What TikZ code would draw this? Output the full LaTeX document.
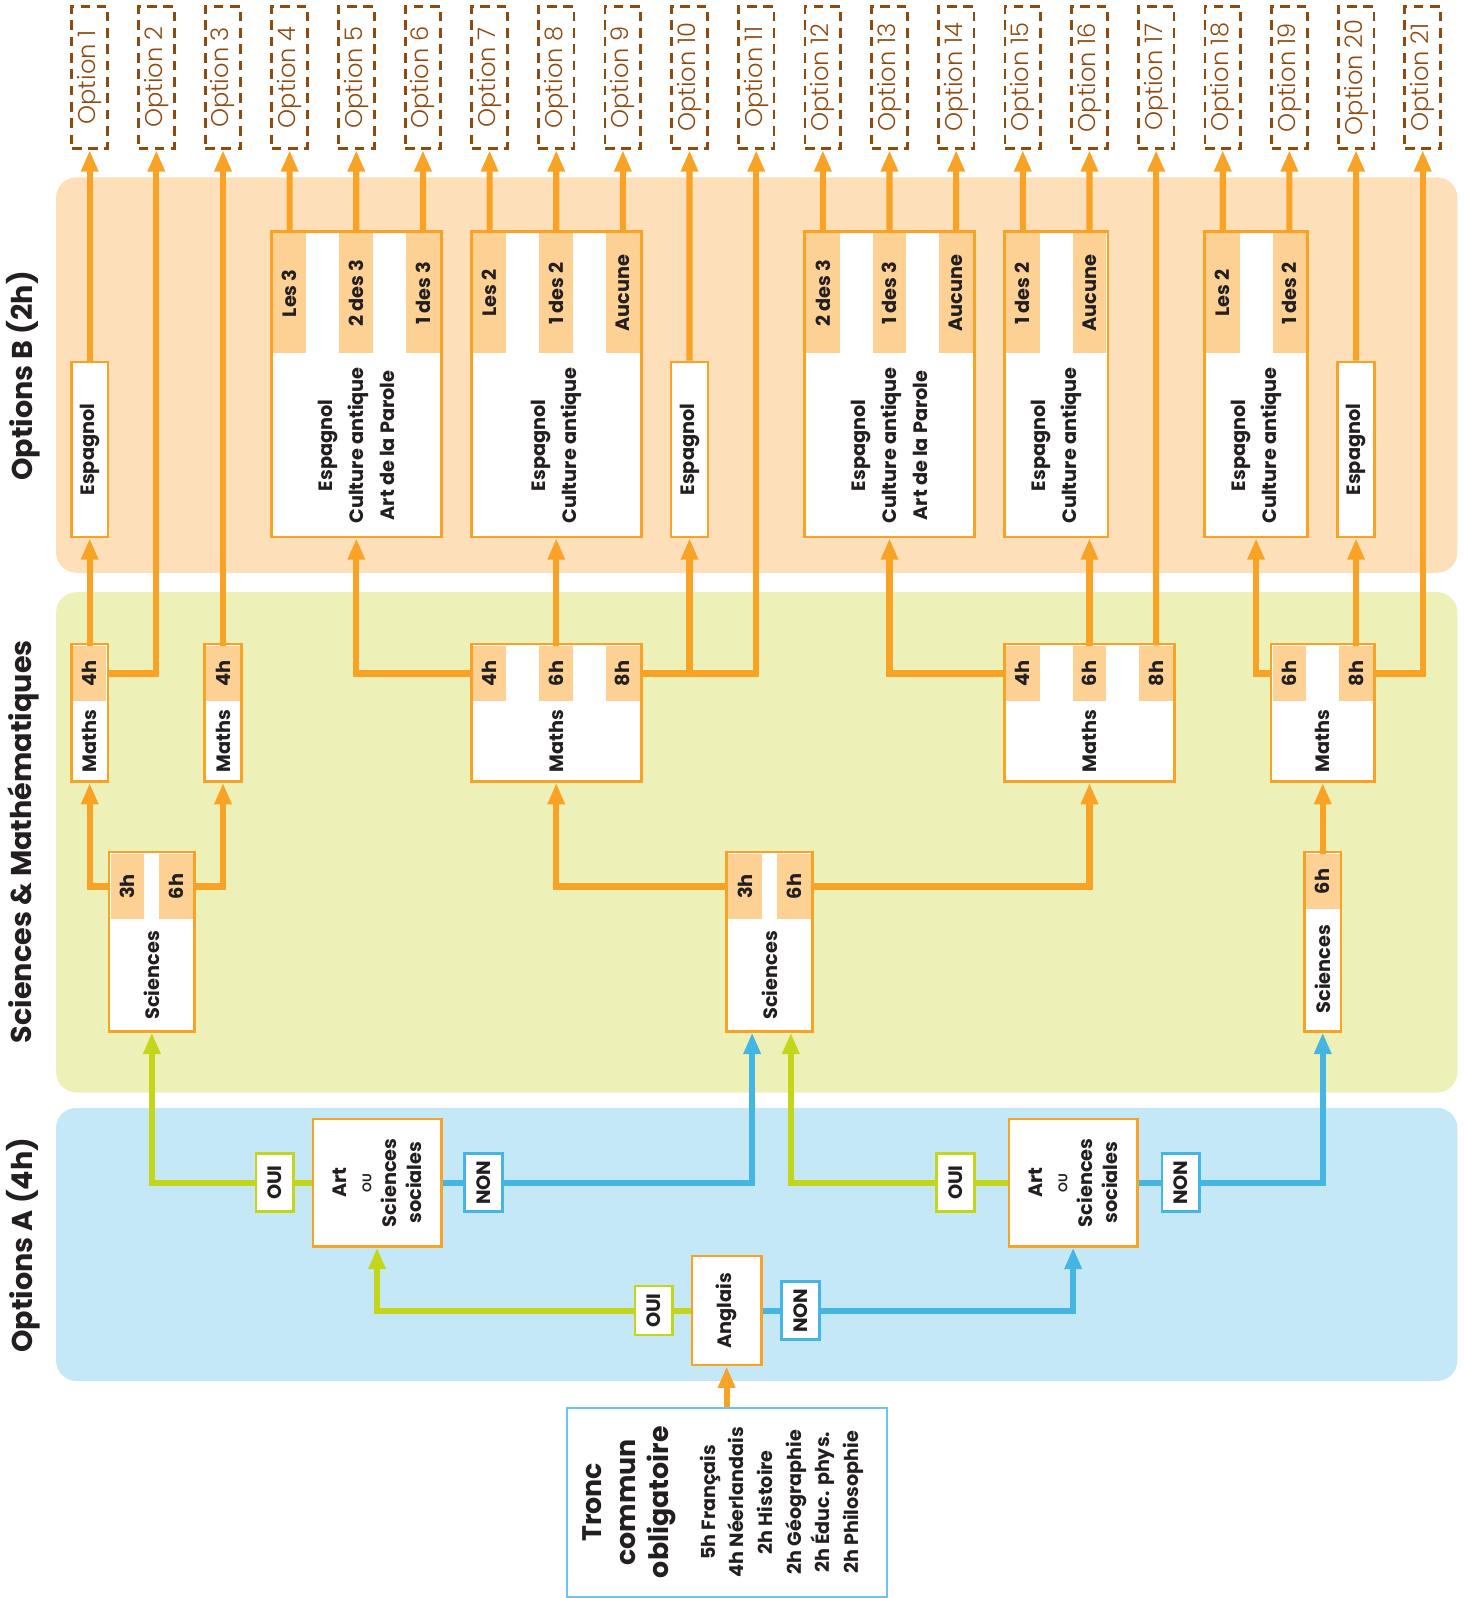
\documentclass[tikz,border=0pt]{standalone}
\usepackage{fontspec}
\setmainfont{Poppins}
\newfontfamily\optfont{Poppins Light}
\usepackage{graphicx}
\usetikzlibrary{arrows.meta}

\definecolor{orangeline}{HTML}{F8A325}
\definecolor{tabfill}{HTML}{FDD093}
\definecolor{bandB}{HTML}{FDE0BA}
\definecolor{bandS}{HTML}{EDF1B8}
\definecolor{bandA}{HTML}{C5E8F6}
\definecolor{ouigreen}{HTML}{C4D61A}
\definecolor{nonblue}{HTML}{45B6E4}
\definecolor{optbrown}{HTML}{8F4A10}
\definecolor{darktext}{HTML}{231F20}
\definecolor{troncblue}{HTML}{6CC5EC}

\newcommand{\vt}[1]{\rotatebox{90}{#1}}
\newcommand{\labfont}{\fontsize{10.8}{13}\selectfont\bfseries}
\newcommand{\bodyfont}{\fontsize{10.8}{17.4}\selectfont\bfseries}

\tikzset{
 band/.style={rounded corners=0.4cm},
 bandlabel/.style={rotate=90, text=darktext, font=\fontsize{16}{19}\selectfont\bfseries},
 optbox/.style={draw=optbrown, line width=0.055cm, dash pattern=on 0.19cm off 0.13cm,
   minimum width=0.7cm, minimum height=2.8cm, inner sep=0pt, text=optbrown,
   font=\fontsize{13.5}{15}\selectfont\optfont},
 obox/.style={draw=orangeline, line width=0.05cm, fill=white, inner sep=0pt,
   text=darktext, font=\labfont},
 espbox/.style={obox, minimum width=0.72cm, minimum height=3.44cm},
 tab/.style={fill=tabfill, inner sep=0pt, anchor=north, minimum width=0.66cm,
   text=darktext, font=\labfont},
 vtext/.style={rotate=90, align=center, text=darktext},
 flag/.style={line width=0.05cm, fill=white, inner sep=0pt, minimum width=0.74cm,
   minimum height=1.14cm, text=darktext, font=\labfont},
 link/.style={line width=0.12cm, draw=orangeline},
 conn/.style={link, -{Triangle[length=0.42cm,width=0.32cm]}},
 glink/.style={link, draw=ouigreen},
 gconn/.style={conn, draw=ouigreen},
 blink/.style={link, draw=nonblue},
 bconn/.style={conn, draw=nonblue}
}

\begin{document}
\begin{tikzpicture}[x=0.02cm, y=-0.02cm]
\useasboundingbox (0,0) rectangle (1436,1568);
%% bands
\fill[band, bandB] (55,174) rectangle (1430,562);
\fill[band, bandS] (55,581) rectangle (1430,1072);
\fill[band, bandA] (55,1087) rectangle (1430,1355);
\node[bandlabel] (lblB) at (22.5,369) {Options B (2h)};
\node[bandlabel] (lblS) at (22.5,826) {Sciences \& Mathématiques};
\node[bandlabel] (lblA) at (22.5,1222) {Options A (4h)};

%% final options
\foreach \i in {1,...,21}
  \node[optbox] (o\i) at ({88+(\i-1)*65.4},76) {\vt{Option \i}};

%% options B
\node[espbox] (e1) at (88,441) {\vt{Espagnol}};
\node[espbox] (e2) at (676.6,441) {\vt{Espagnol}};
\node[espbox] (e3) at (1330.6,441) {\vt{Espagnol}};

\node[obox, minimum width=3.336cm, minimum height=6cm] (bA) at (349.6,377) {};
\node[tab, minimum height=2.36cm] (tA1) at (284.2,228.5) {\vt{Les 3}};
\node[tab, minimum height=2.36cm] (tA2) at (349.6,228.5) {\vt{2 des 3}};
\node[tab, minimum height=2.36cm] (tA3) at (415,228.5) {\vt{1 des 3}};
\node[vtext, font=\bodyfont] (bAt) at (349.6,437) {Espagnol\\Culture antique\\Art de la Parole};

\node[obox, minimum width=3.336cm, minimum height=6cm] (bB) at (545.8,377) {};
\node[tab, minimum height=2.36cm] (tB1) at (480.4,228.5) {\vt{Les 2}};
\node[tab, minimum height=2.36cm] (tB2) at (545.8,228.5) {\vt{1 des 2}};
\node[tab, minimum height=2.36cm] (tB3) at (611.2,228.5) {\vt{Aucune}};
\node[vtext, font=\bodyfont] (bBt) at (545.8,437) {Espagnol\\Culture antique};

\node[obox, minimum width=3.336cm, minimum height=6cm] (bC) at (872.8,377) {};
\node[tab, minimum height=2.36cm] (tC1) at (807.4,228.5) {\vt{2 des 3}};
\node[tab, minimum height=2.36cm] (tC2) at (872.8,228.5) {\vt{1 des 3}};
\node[tab, minimum height=2.36cm] (tC3) at (938.2,228.5) {\vt{Aucune}};
\node[vtext, font=\bodyfont] (bCt) at (872.8,437) {Espagnol\\Culture antique\\Art de la Parole};

\node[obox, minimum width=2.028cm, minimum height=6cm] (bD) at (1036.3,377) {};
\node[tab, minimum height=2.36cm] (tD1) at (1003.6,228.5) {\vt{1 des 2}};
\node[tab, minimum height=2.36cm] (tD2) at (1069,228.5) {\vt{Aucune}};
\node[vtext, font=\bodyfont] (bDt) at (1036.3,437) {Espagnol\\Culture antique};

\node[obox, minimum width=2.028cm, minimum height=6cm] (bE) at (1232.5,377) {};
\node[tab, minimum height=2.36cm] (tE1) at (1199.8,228.5) {\vt{Les 2}};
\node[tab, minimum height=2.36cm] (tE2) at (1265.2,228.5) {\vt{1 des 2}};
\node[vtext, font=\bodyfont] (bEt) at (1232.5,437) {Espagnol\\Culture antique};

%% maths
\node[obox, minimum width=0.72cm, minimum height=2.7cm] (m1) at (88,699.5) {};
\node[tab, minimum height=1.08cm] (m1a) at (88,633.5) {\vt{4h}};
\node[vtext, font=\labfont] (m1t) at (88,727.5) {Maths};

\node[obox, minimum width=0.72cm, minimum height=2.7cm] (m2) at (218.8,699.5) {};
\node[tab, minimum height=1.08cm] (m2a) at (218.8,633.5) {\vt{4h}};
\node[vtext, font=\labfont] (m2t) at (218.8,727.5) {Maths};

\node[obox, minimum width=3.336cm, minimum height=2.7cm] (m3) at (545.8,699.5) {};
\node[tab, minimum height=1.08cm] (m3a) at (480.4,633.5) {\vt{4h}};
\node[tab, minimum height=1.08cm] (m3b) at (545.8,633.5) {\vt{6h}};
\node[tab, minimum height=1.08cm] (m3c) at (611.2,633.5) {\vt{8h}};
\node[vtext, font=\labfont] (m3t) at (545.8,727.5) {Maths};

\node[obox, minimum width=3.336cm, minimum height=2.7cm] (m4) at (1069,699.5) {};
\node[tab, minimum height=1.08cm] (m4a) at (1003.6,633.5) {\vt{4h}};
\node[tab, minimum height=1.08cm] (m4b) at (1069,633.5) {\vt{6h}};
\node[tab, minimum height=1.08cm] (m4c) at (1134.4,633.5) {\vt{8h}};
\node[vtext, font=\labfont] (m4t) at (1069,727.5) {Maths};

\node[obox, minimum width=2.028cm, minimum height=2.7cm] (m5) at (1297.9,699.5) {};
\node[tab, minimum height=1.08cm] (m5a) at (1265.2,633.5) {\vt{6h}};
\node[tab, minimum height=1.08cm] (m5b) at (1330.6,633.5) {\vt{8h}};
\node[vtext, font=\labfont] (m5t) at (1297.9,727.5) {Maths};

%% sciences
\node[obox, minimum width=1.68cm, minimum height=3.52cm] (s1) at (149,924) {};
\node[tab, minimum height=1.28cm] (s1a) at (125,837.5) {\vt{3h}};
\node[tab, minimum height=1.28cm] (s1b) at (173,837.5) {\vt{6h}};
\node[vtext, font=\labfont] (s1t) at (149,957) {Sciences};

\node[obox, minimum width=1.68cm, minimum height=3.52cm] (s2) at (755,924) {};
\node[tab, minimum height=1.28cm] (s2a) at (731,837.5) {\vt{3h}};
\node[tab, minimum height=1.28cm] (s2b) at (779,837.5) {\vt{6h}};
\node[vtext, font=\labfont] (s2t) at (755,957) {Sciences};

\node[obox, minimum width=0.72cm, minimum height=3.52cm] (s3) at (1297.9,924) {};
\node[tab, minimum height=1.08cm] (s3a) at (1297.9,837.5) {\vt{6h}};
\node[vtext, font=\labfont] (s3t) at (1297.9,951) {Sciences};

%% options A
\node[obox, minimum width=2.52cm, minimum height=2.5cm] (a1) at (370,1160.5) {};
\node[vtext, font=\fontsize{10.8}{14}\selectfont\bfseries] (a1t) at (370,1160.5)
  {Art\\{\fontsize{7}{8}\selectfont\optfont OU}\\Sciences\\sociales};
\node[obox, minimum width=2.52cm, minimum height=2.5cm] (a2) at (1053,1160.5) {};
\node[vtext, font=\fontsize{10.8}{14}\selectfont\bfseries] (a2t) at (1053,1160.5)
  {Art\\{\fontsize{7}{8}\selectfont\optfont OU}\\Sciences\\sociales};
\node[obox, minimum width=1.36cm, minimum height=2.14cm] (ang) at (713,1286) {\vt{Anglais}};

\node[flag, draw=ouigreen] (oui1) at (269.5,1160.5) {\vt{OUI}};
\node[flag, draw=nonblue] (non1) at (474.5,1160.5) {\vt{NON}};
\node[flag, draw=ouigreen, minimum height=0.96cm] (oui2) at (641.5,1286) {\vt{OUI}};
\node[flag, draw=nonblue] (non2) at (785.5,1286) {\vt{NON}};
\node[flag, draw=ouigreen] (oui3) at (937.5,1160.5) {\vt{OUI}};
\node[flag, draw=nonblue] (non3) at (1158.5,1160.5) {\vt{NON}};

%% tronc commun
\node[draw=troncblue, line width=0.04cm, fill=white, minimum width=6.28cm,
  minimum height=3.7cm] (tc) at (713,1474.5) {};
\node[vtext, font=\fontsize{15}{18.5}\selectfont\bfseries] (tct) at (617.5,1474)
  {Tronc\\commun\\obligatoire};
\node[vtext, font=\fontsize{10.7}{16}\selectfont\bfseries] (tcl) at (767,1474)
  {5h Français\\4h Néerlandais\\2h Histoire\\2h Géographie\\2h Éduc. phys.\\2h Philosophie};

%% connectors: options B to options
\foreach \a/\b in {e1/o1, tA1/o4, tA2/o5, tA3/o6, tB1/o7, tB2/o8, tB3/o9, e2/o10,
  tC1/o12, tC2/o13, tC3/o14, tD1/o15, tD2/o16, tE1/o18, tE2/o19, e3/o20}
  \draw[conn] (\a.north) -- (\b.south);

%% maths to options B
\draw[conn] (m1a.north) -- (e1.south);
\draw[conn] (m1a.east) -| (o2.south);
\draw[conn] (m2a.north) -- (o3.south);
\draw[conn] (m3a.west) -| (bA.south);
\draw[conn] (m3b.north) -- (bB.south);
\draw[conn] (m3c.east) -| (e2.south);
\draw[conn] (m3c.east) -| (o11.south);
\draw[conn] (m4a.west) -| (bC.south);
\draw[conn] (m4b.north) -- (m4b.north |- bD.south);
\draw[conn] (m4c.north) -- (o17.south);
\draw[conn] (m5a.west) -| (bE.south);
\draw[conn] (m5b.north) -- (e3.south);
\draw[conn] (m5b.east) -| (o21.south);

%% sciences to maths
\draw[conn] (s1a.west) -| (m1.south);
\draw[conn] (s1b.east) -| (m2.south);
\draw[conn] (s2a.west) -| (m3.south);
\draw[conn] (s2b.east) -| (m4.south);
\draw[conn] (s3a.north) -- (m5.south);

%% options A
\draw[glink] (a1.west) -- (oui1.east);
\draw[gconn] (oui1.west) -| (s1.south);
\draw[blink] (a1.east) -- (non1.west);
\draw[bconn] (non1.east) -| ([xshift=-0.34cm]s2.south);
\draw[glink] (ang.west) -- (oui2.east);
\draw[gconn] (oui2.west) -| (a1.south);
\draw[blink] (ang.east) -- (non2.west);
\draw[bconn] (non2.east) -| (a2.south);
\draw[glink] (a2.west) -- (oui3.east);
\draw[gconn] (oui3.west) -| ([xshift=0.42cm]s2.south);
\draw[blink] (a2.east) -- (non3.west);
\draw[bconn] (non3.east) -| (s3.south);
\draw[conn] (tc.north) -- (ang.south);
\end{tikzpicture}
\end{document}
